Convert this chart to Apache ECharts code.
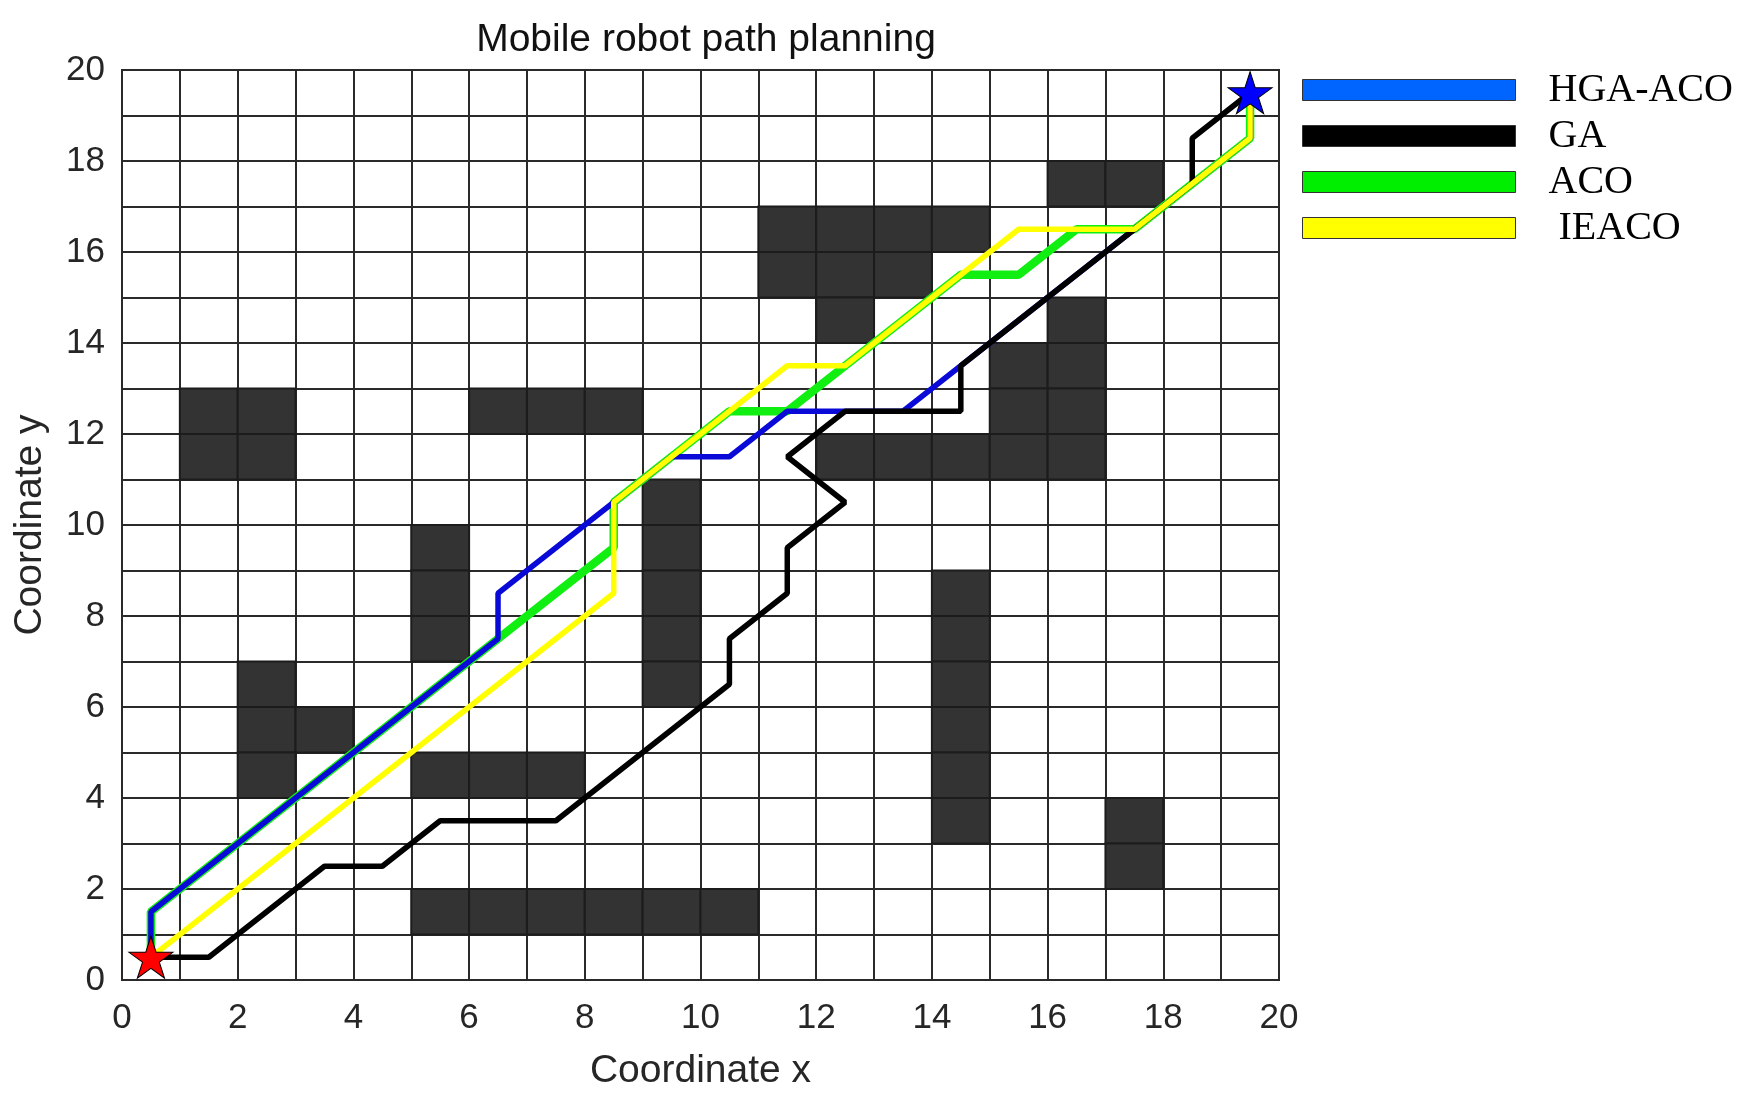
<!DOCTYPE html>
<html>
<head>
<meta charset="utf-8">
<title>Mobile robot path planning</title>
<script src="https://cdn.jsdelivr.net/npm/echarts@6/dist/echarts.min.js"></script>
<style>
  html, body { margin: 0; padding: 0; background: #fff; }
  #main { width: 1762px; height: 1111px; }
</style>
</head>
<body>
<div id="main"></div>
<script>
// grid map: lower-left corner of each blocked cell
const obstacleCells = [
  [1, 12], [2, 12], [1, 11], [2, 11],
  [6, 12], [7, 12], [8, 12],
  [11, 16], [12, 16], [13, 16], [14, 16],
  [11, 15], [12, 15], [13, 15], [12, 14],
  [16, 17], [17, 17],
  [16, 14], [15, 13], [16, 13], [15, 12], [16, 12],
  [12, 11], [13, 11], [14, 11], [15, 11], [16, 11],
  [9, 10], [9, 9], [9, 8], [9, 7], [9, 6],
  [5, 9], [5, 8], [5, 7],
  [2, 6], [2, 5], [2, 4], [3, 5],
  [5, 4], [6, 4], [7, 4],
  [5, 1], [6, 1], [7, 1], [8, 1], [9, 1], [10, 1],
  [14, 8], [14, 7], [14, 6], [14, 5], [14, 4], [14, 3],
  [17, 3], [17, 2]
];

// path turning points (cell centres)
const hgaAcoPath = [[0.5, 0.5], [0.5, 1.5], [6.5, 7.5], [6.5, 8.5], [9.5, 11.5], [10.5, 11.5],
  [11.5, 12.5], [13.5, 12.5], [19.5, 18.5], [19.5, 19.5]];
const gaPath = [[0.5, 0.5], [1.5, 0.5], [3.5, 2.5], [4.5, 2.5], [5.5, 3.5], [7.5, 3.5], [10.5, 6.5],
  [10.5, 7.5], [11.5, 8.5], [11.5, 9.5], [12.5, 10.5], [11.5, 11.5], [12.5, 12.5], [14.5, 12.5],
  [14.5, 13.5], [18.5, 17.5], [18.5, 18.5], [19.5, 19.5]];
const acoPath = [[0.5, 0.5], [0.5, 1.5], [6.5, 7.5], [8.5, 9.5], [8.5, 10.5], [10.5, 12.5], [11.5, 12.5],
  [14.5, 15.5], [15.5, 15.5], [16.5, 16.5], [17.5, 16.5], [19.5, 18.5], [19.5, 19.5]];
const ieacoPath = [[0.5, 0.5], [8.5, 8.5], [8.5, 10.5], [11.5, 13.5], [12.5, 13.5], [15.5, 16.5],
  [17.5, 16.5], [19.5, 18.5], [19.5, 19.5]];

const startPoint = [0.5, 0.5];
const goalPoint = [19.5, 19.5];

const seriesNames = ['HGA-ACO', 'GA', 'ACO', ' IEACO'];

const starPath = 'path://M0,-1L0.2245,-0.309L0.951,-0.309L0.363,0.118L0.588,0.809L0,0.382L-0.588,0.809L-0.363,0.118L-0.951,-0.309L-0.2245,-0.309Z';

const myChart = echarts.init(document.getElementById('main'));

const axisCommon = {
  type: 'value',
  min: 0,
  max: 20,
  interval: 2,
  nameLocation: 'middle',
  nameGap: 72,
  nameTextStyle: { fontFamily: 'Liberation Sans', fontSize: 39, color: '#262626' },
  axisLine: { show: false },
  axisTick: { show: false },
  axisLabel: { fontFamily: 'Liberation Sans', fontSize: 35, color: '#262626' },
  splitLine: { show: true, lineStyle: { color: '#2a2a2a', width: 2 } },
  minorTick: { show: false, splitNumber: 2 },
  minorSplitLine: { show: true, lineStyle: { color: '#2a2a2a', width: 2 } }
};

const option = {
  animation: false,
  backgroundColor: '#ffffff',
  title: {
    text: 'Mobile robot path planning',
    left: 701,
    top: 16,
    textAlign: 'center',
    textStyle: { fontFamily: 'Liberation Sans', fontSize: 39, fontWeight: 'normal', color: '#111' }
  },
  legend: {
    orient: 'vertical',
    left: 1297,
    top: 65,
    itemWidth: 213,
    itemHeight: 21,
    itemGap: 6,
    icon: 'rect',
    itemStyle: { borderColor: '#333', borderWidth: 1 },
    textStyle: { fontFamily: 'Liberation Serif', fontSize: 40, color: '#000', padding: [0, 0, 0, 28] },
    data: [
      { name: seriesNames[0], itemStyle: { color: '#0064ff' } },
      { name: seriesNames[1], itemStyle: { color: '#000000' } },
      { name: seriesNames[2], itemStyle: { color: '#00ee00' } },
      { name: seriesNames[3], itemStyle: { color: '#ffff00' } }
    ]
  },
  grid: {
    left: 122,
    right: 483,
    top: 70,
    bottom: 131,
    show: true,
    borderColor: '#222',
    borderWidth: 2
  },
  xAxis: Object.assign({}, axisCommon, {
    name: 'Coordinate x',
    axisLabel: Object.assign({}, axisCommon.axisLabel, { margin: 21 })
  }),
  yAxis: Object.assign({}, axisCommon, {
    name: 'Coordinate y',
    axisLabel: Object.assign({}, axisCommon.axisLabel, { margin: 17 })
  }),
  series: [
    {
      name: 'obstacles',
      type: 'custom',
      z: 1,
      silent: true,
      data: obstacleCells,
      renderItem: function (params, api) {
        const x = api.value(0);
        const y = api.value(1);
        const p0 = api.coord([x, y + 1]);
        const p1 = api.coord([x + 1, y]);
        return {
          type: 'rect',
          shape: { x: p0[0], y: p0[1], width: p1[0] - p0[0], height: p1[1] - p0[1] },
          style: { fill: '#333333', stroke: '#1c1c1c', lineWidth: 2 }
        };
      }
    },
    {
      name: seriesNames[2],
      type: 'line',
      z: 3,
      data: acoPath,
      showSymbol: false,
      color: '#00ee00',
      lineStyle: { color: '#11ee11', width: 8.5 }
    },
    {
      name: seriesNames[0],
      type: 'line',
      z: 4,
      data: hgaAcoPath,
      showSymbol: false,
      color: '#0064ff',
      lineStyle: { color: '#0a0ad8', width: 5.5 }
    },
    {
      name: seriesNames[1],
      type: 'line',
      z: 5,
      data: gaPath,
      showSymbol: false,
      color: '#000',
      lineStyle: { color: '#000', width: 5.5 }
    },
    {
      name: seriesNames[3],
      type: 'line',
      z: 6,
      data: ieacoPath,
      showSymbol: false,
      color: '#ffff00',
      lineStyle: { color: '#ffff00', width: 5.5 }
    },
    {
      name: 'endpoints',
      type: 'scatter',
      z: 8,
      symbol: starPath,
      symbolSize: [44, 42],
      data: [
        { value: startPoint, itemStyle: { color: '#ff0000', borderColor: '#000', borderWidth: 1, opacity: 1 } },
        { value: goalPoint, itemStyle: { color: '#0000ff', borderColor: '#000', borderWidth: 1, opacity: 1 } }
      ]
    }
  ]
};

myChart.setOption(option);
</script>
</body>
</html>
